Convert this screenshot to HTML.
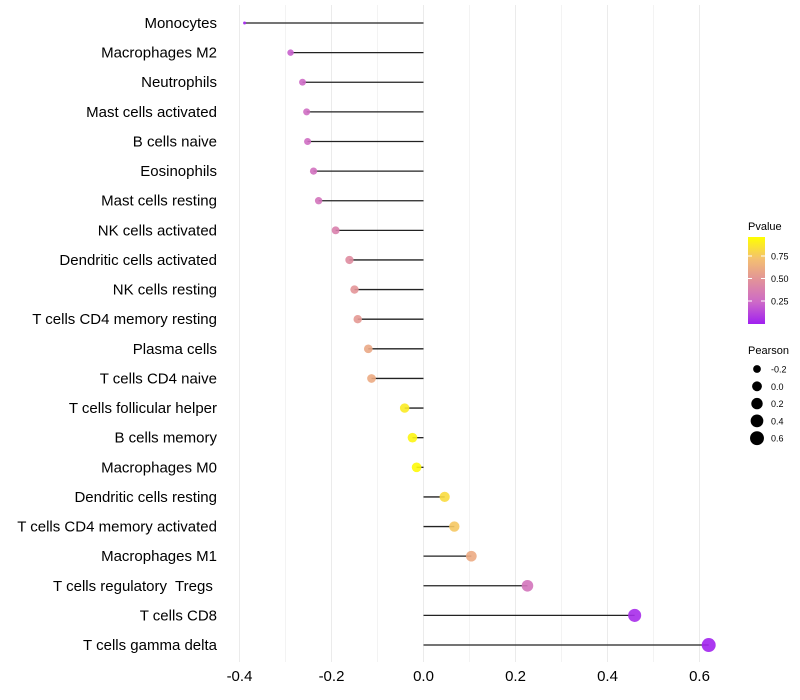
<!DOCTYPE html>
<html><head><meta charset="utf-8"><style>
body{margin:0;background:#fff;font-family:"Liberation Sans",sans-serif}
svg{display:block}
</style></head><body>
<svg id="chart" width="800" height="700"></svg>
<script>
const categories=["Monocytes","Macrophages M2","Neutrophils","Mast cells activated","B cells naive","Eosinophils","Mast cells resting","NK cells activated","Dendritic cells activated","NK cells resting","T cells CD4 memory resting","Plasma cells","T cells CD4 naive","T cells follicular helper","B cells memory","Macrophages M0","Dendritic cells resting","T cells CD4 memory activated","Macrophages M1","T cells regulatory  Tregs ","T cells CD8","T cells gamma delta"];
const pearson=[-0.389,-0.289,-0.263,-0.254,-0.252,-0.239,-0.228,-0.191,-0.161,-0.150,-0.143,-0.120,-0.113,-0.041,-0.024,-0.015,0.046,0.067,0.104,0.226,0.459,0.620];
const pvalue=[0.02,0.22,0.26,0.28,0.28,0.30,0.32,0.40,0.47,0.52,0.54,0.62,0.64,0.92,0.96,0.98,0.86,0.78,0.64,0.32,0.04,0.01];
const xTicks=[-0.4,-0.2,0.0,0.2,0.4,0.6];
const xTickLabels=["-0.4","-0.2","0.0","0.2","0.4","0.6"];
const colorTicks=[0.25,0.5,0.75];
const sizeTicks=[-0.2,0.0,0.2,0.4,0.6];

const NS="http://www.w3.org/2000/svg";
const svg=document.getElementById("chart");
function el(t,a,p){const e=document.createElementNS(NS,t);for(const k in a)e.setAttribute(k,a[k]);(p||svg).appendChild(e);return e;}
const x=v=>423.5+v*460;
const y=i=>23+i*29.62;
const pMin=Math.min(...pearson),pMax=Math.max(...pearson);
const r=v=>1.5+5.5*Math.sqrt(Math.max(0,(v-pMin)/(pMax-pMin)));
const stops=[[0,[160,32,240]],[0.25,[205,105,200]],[0.5,[225,145,155]],[0.75,[244,192,112]],[1,[255,255,0]]];
function col(p){for(let i=1;i<stops.length;i++){if(p<=stops[i][0]){const a=stops[i-1],b=stops[i],t=(p-a[0])/(b[0]-a[0]);const c=a[1].map((v,k)=>Math.round(v+(b[1][k]-v)*t));return `rgb(${c})`;}}return "rgb(255,255,0)";}

for(let v=-0.4;v<=0.65;v+=0.1){const g=el("line",{x1:x(v),x2:x(v),y1:5,y2:662,stroke:"#ebebeb","stroke-width":Math.abs(Math.round(v*10))%2===0?1:0.6});

}
xTicks.forEach((v,i)=>{const t=el("text",{x:x(v),y:681,"text-anchor":"middle","font-size":15,fill:"#000"});t.textContent=xTickLabels[i];

});

categories.forEach((c,i)=>{
 const t=el("text",{x:217,y:y(i)+5,"text-anchor":"end","font-size":15,fill:"#000","xml:space":"preserve",style:"white-space:pre"});t.textContent=c;
 
 
 const l=el("line",{x1:x(0),x2:x(pearson[i]),y1:y(i),y2:y(i),stroke:"#222","stroke-width":1.3});
 
 
 const d=el("circle",{cx:x(pearson[i]),cy:y(i),r:r(pearson[i]),fill:col(pvalue[i]),"fill-opacity":0.9});
 
 
});

const lt=el("text",{x:748,y:230,"font-size":11});lt.textContent="Pvalue";


const defs=el("defs",{});const gr=el("linearGradient",{id:"g",x1:0,y1:1,x2:0,y2:0},defs);
stops.forEach(s=>el("stop",{offset:s[0],"stop-color":`rgb(${s[1]})`},gr));
const py=p=>323.5-p*90;
const bar=el("rect",{x:748,y:237,width:17,height:87,fill:"url(#g)"});


colorTicks.forEach(p=>{el("line",{x1:748,x2:752,y1:py(p),y2:py(p),stroke:"#fff"});el("line",{x1:761,x2:765,y1:py(p),y2:py(p),stroke:"#fff"});
 const t=el("text",{x:771,y:py(p)+3.5,"font-size":9});t.textContent=p.toFixed(2);
 
 });
const st=el("text",{x:748,y:354,"font-size":11});st.textContent="Pearson";


sizeTicks.forEach((v,i)=>{const cy=369+i*17.3;
 const c=el("circle",{cx:757,cy:cy,r:r(v),fill:"#000"});
 
 
 const t=el("text",{x:771,y:cy+3.5,"font-size":9});t.textContent=v.toFixed(1);
 
 });
</script>
</body></html>
